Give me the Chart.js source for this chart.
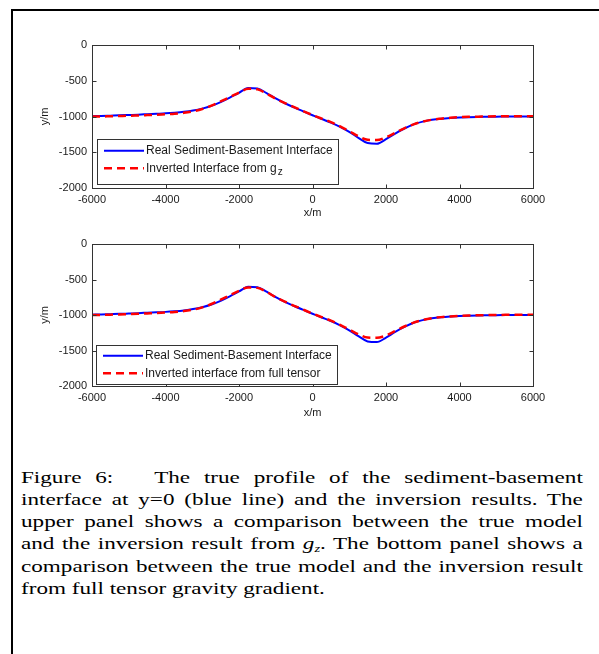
<!DOCTYPE html>
<html>
<head>
<meta charset="utf-8">
<script src="https://cdn.jsdelivr.net/npm/chart.js@4/dist/chart.umd.min.js"></script>
<style>
  html, body { margin: 0; padding: 0; background: #fff; }
  body { width: 599px; height: 654px; position: relative; overflow: hidden; }
  .frame { position: absolute; left: 11px; top: 9px; width: 700px; height: 700px;
           border-top: 2px solid #000; border-left: 2px solid #000; }
  canvas { position: absolute; left: 0; }
  #panelTop { top: 0; }
  #panelBottom { top: 230px; }
  .caption { position: absolute; left: 21px; top: 465.6px; width: 425px;
             transform: scaleX(1.322); transform-origin: 0 0;
             font-family: "Liberation Serif", "Times New Roman", serif; font-size: 17.5px;
             line-height: 22.3px; color: #000; }
  .caption .j { text-align: justify; text-align-last: justify; }
  .caption sub { font-size: 11px; line-height: 0; vertical-align: -0.3em; }
</style>
</head>
<body>
<div class="frame"></div>
<canvas id="panelTop" width="599" height="230"></canvas>
<canvas id="panelBottom" width="599" height="200"></canvas>
<div class="caption">
  <div class="j">Figure 6:&nbsp;&nbsp; The true profile of the sediment-basement</div>
  <div class="j">interface at y=0 (blue line) and the inversion results. The</div>
  <div class="j">upper panel shows a comparison between the true model</div>
  <div class="j">and the inversion result from <i>g<sub>z</sub></i>. The bottom panel shows a</div>
  <div class="j">comparison between the true model and the inversion result</div>
  <div>from full tensor gravity gradient.</div>
</div>
<script>
// Profile positions along x (m)
const xPositions = [
  -6000, -5750, -5500, -5250, -5000, -4750, -4500, -4250, -4000, -3750,
  -3500, -3250, -3000, -2750, -2500, -2250, -2000, -1750, -1500, -1250,
  -1000, -750, -500, -250, 0, 250, 500, 750, 1000, 1250,
  1500, 1750, 2000, 2250, 2500, 2750, 3000, 3250, 3500, 3750,
  4000, 4250, 4500, 4750, 5000, 5250, 5500, 5750, 6000
];
// True sediment-basement interface depth (m)
const realDepth = [
  -995, -992, -988, -984, -979, -974, -968, -962, -956, -947,
  -935, -917, -890, -852, -800, -737, -668, -602, -608, -672,
  -748, -815, -873, -928, -982, -1035, -1085, -1145, -1215, -1298,
  -1372, -1382, -1318, -1238, -1168, -1110, -1072, -1047, -1031, -1021,
  -1014, -1009, -1006, -1004, -1002, -1001, -1000, -1000, -1000
];
// Interface inverted from g_z
const gzDepth = [
  -1000, -1000, -996, -993, -990, -985, -980, -975, -967, -960,
  -948, -928, -895, -848, -790, -728, -665, -613, -620, -680,
  -752, -812, -868, -925, -980, -1030, -1078, -1138, -1205, -1275,
  -1325, -1330, -1290, -1228, -1165, -1110, -1072, -1045, -1030, -1018,
  -1010, -1005, -1003, -1000, -998, -997, -996, -995, -995
];
// Interface inverted from the full gravity gradient tensor
const ftgDepth = [
  -1000, -998, -995, -992, -988, -984, -978, -972, -965, -957,
  -945, -925, -893, -845, -785, -722, -660, -612, -618, -675,
  -750, -812, -870, -925, -980, -1030, -1080, -1140, -1205, -1272,
  -1318, -1322, -1288, -1225, -1162, -1108, -1070, -1045, -1030, -1020,
  -1012, -1007, -1004, -1002, -1000, -998, -997, -996, -995
];
const xTickStep = 2000;
const yTickStep = 500;
const realLabel = 'Real Sediment-Basement Interface';
const gzLabel = 'Inverted Interface from g_z';
const ftgLabel = 'Inverted interface from full tensor';

const axisColor = '#333';
const textColor = '#1a1a1a';
const sansFont = '"Liberation Sans", Arial, Helvetica, sans-serif';

function points(ys) { return xPositions.map((x, i) => ({ x: x, y: ys[i] })); }

// Closed axes box with inward tick marks on all four sides
const boxPlugin = {
  id: 'axesBox',
  afterDraw(chart) {
    const { ctx, chartArea: a, scales: { x, y } } = chart;
    const L = Math.round(a.left) + 0.5, R = Math.round(a.right) + 0.5;
    const T = Math.round(a.top) + 0.5, B = Math.round(a.bottom) + 0.5;
    const tl = 4;
    ctx.save();
    ctx.strokeStyle = axisColor;
    ctx.lineWidth = 1;
    ctx.strokeRect(L, T, R - L, B - T);
    ctx.beginPath();
    x.ticks.forEach(t => {
      const px = Math.round(x.getPixelForValue(t.value)) + 0.5;
      ctx.moveTo(px, B); ctx.lineTo(px, B - tl);
      ctx.moveTo(px, T); ctx.lineTo(px, T + tl);
    });
    y.ticks.forEach(t => {
      const py = Math.round(y.getPixelForValue(t.value)) + 0.5;
      ctx.moveTo(L, py); ctx.lineTo(L + tl, py);
      ctx.moveTo(R, py); ctx.lineTo(R - tl, py);
    });
    ctx.stroke();
    ctx.restore();
  }
};

// Boxed legend inside the lower-left corner of the plot area
const legendPlugin = {
  id: 'boxLegend',
  afterDraw(chart, args, opts) {
    const { ctx, chartArea: a } = chart;
    const x0 = Math.round(a.left + opts.dx);
    const y0 = Math.round(a.bottom - opts.dy - opts.height);
    ctx.save();
    ctx.fillStyle = '#fff';
    ctx.fillRect(x0, y0, opts.width, opts.height);
    ctx.strokeStyle = axisColor;
    ctx.lineWidth = 1;
    ctx.strokeRect(x0 + 0.5, y0 + 0.5, opts.width, opts.height);
    chart.data.datasets.forEach((ds, i) => {
      const cy = y0 + opts.rowTop + i * opts.rowGap;
      ctx.strokeStyle = ds.borderColor;
      ctx.lineWidth = ds.borderWidth;
      ctx.setLineDash(ds.borderDash || []);
      ctx.beginPath();
      ctx.moveTo(x0 + 7, cy);
      ctx.lineTo(x0 + 47, cy);
      ctx.stroke();
      ctx.setLineDash([]);
      ctx.fillStyle = textColor;
      ctx.font = '12px ' + sansFont;
      ctx.textBaseline = 'middle';
      const parts = ds.label.split('_');
      ctx.fillText(parts[0], x0 + 49, cy);
      if (parts[1]) {
        const w = ctx.measureText(parts[0]).width;
        ctx.font = '10px ' + sansFont;
        ctx.fillText(parts[1], x0 + 49 + w + 1, cy + 4);
      }
    });
    ctx.restore();
  }
};

function makePanel(id, invertedDepth, invertedLabel, cfg) {
  const tickFont = { family: sansFont, size: 11 };
  return new Chart(document.getElementById(id), {
    type: 'line',
    data: {
      datasets: [
        { label: realLabel, data: points(realDepth), borderColor: '#0000ff',
          borderWidth: 2, order: 1 },
        { label: invertedLabel, data: points(invertedDepth), borderColor: '#ff0000',
          borderWidth: 2.5, borderDash: [8, 5], order: 0 }
      ]
    },
    options: {
      responsive: false,
      animation: false,
      devicePixelRatio: 1,
      layout: { padding: { left: 0, right: 66, top: cfg.top, bottom: cfg.bottom } },
      elements: { point: { radius: 0 }, line: { cubicInterpolationMode: 'monotone', fill: false } },
      plugins: {
        legend: { display: false },
        tooltip: { enabled: false },
        boxLegend: cfg.legend
      },
      scales: {
        x: {
          type: 'linear', min: -6000, max: 6000,
          grid: { display: false, drawTicks: false },
          border: { display: false },
          ticks: { stepSize: xTickStep, autoSkip: false, maxRotation: 0, padding: 5,
                   color: textColor, font: tickFont, callback: v => String(v) },
          title: { display: true, text: 'x/m', color: textColor, font: tickFont,
                   padding: { top: 0, bottom: cfg.xTitlePad } },
          afterFit(scale) { scale.height = 35; }
        },
        y: {
          type: 'linear', min: -2000, max: 0,
          grid: { display: false, drawTicks: false },
          border: { display: false },
          ticks: { stepSize: yTickStep, autoSkip: false, padding: 5,
                   color: textColor, font: tickFont, callback: v => String(v) },
          title: { display: true, text: 'y/m', color: textColor, font: tickFont,
                   padding: { top: 38.4, bottom: 0 } },
          afterFit(scale) { scale.width = 92; }
        }
      }
    },
    plugins: [boxPlugin, legendPlugin]
  });
}

makePanel('panelTop', gzDepth, gzLabel, {
  top: 45, bottom: 7, xTitlePad: 3.4,
  legend: { dx: 5, dy: 4, width: 241, height: 45, rowTop: 11.7, rowGap: 17.6 }
});
makePanel('panelBottom', ftgDepth, ftgLabel, {
  top: 14, bottom: 9, xTitlePad: 1.4,
  legend: { dx: 4, dy: 2, width: 241, height: 39, rowTop: 10.7, rowGap: 17.6 }
});
</script>
</body>
</html>
